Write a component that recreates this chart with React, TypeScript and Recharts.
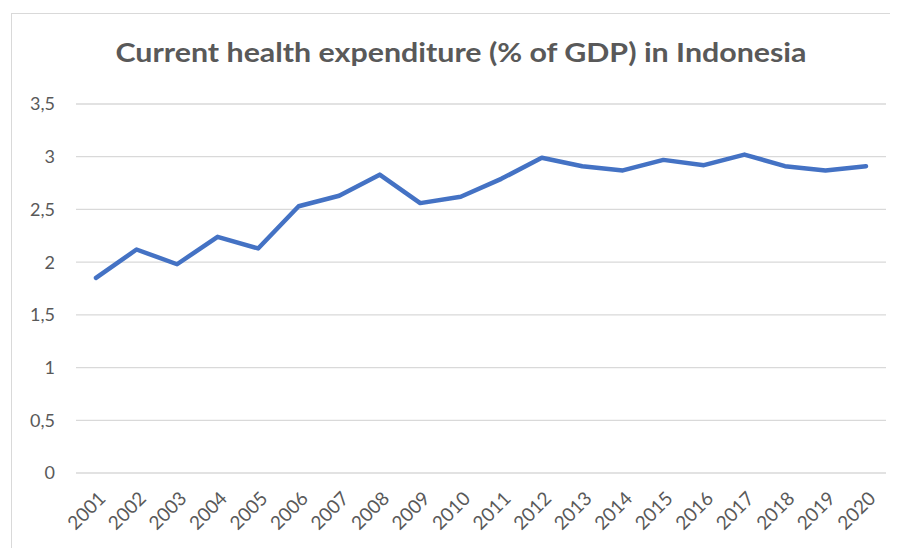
import React from 'react';
import { LineChart, Line, XAxis, YAxis, CartesianGrid } from 'recharts';

const years = ['2001','2002','2003','2004','2005','2006','2007','2008','2009','2010','2011','2012','2013','2014','2015','2016','2017','2018','2019','2020'];
const values = [1.85, 2.12, 1.98, 2.24, 2.13, 2.53, 2.63, 2.83, 2.56, 2.62, 2.79, 2.99, 2.91, 2.87, 2.97, 2.92, 3.02, 2.91, 2.87, 2.91];
const yTicks = [0, 0.5, 1, 1.5, 2, 2.5, 3, 3.5];
const title = 'Current health expenditure (% of GDP) in Indonesia';

const data = years.map((y, i) => ({ year: y, value: values[i] }));

const FONT = 'Lato, "Open Sans", sans-serif';
const TEXT = '#595959';

const XTick = (props: any) => {
  const { x, y, payload } = props;
  return (
    <g transform={`translate(${x + 6},${y + 14})`}>
      <text textAnchor="end" transform="rotate(-45)" fill={TEXT} fontSize={19} fontFamily={FONT} dy="0.355em">
        {payload.value}
      </text>
    </g>
  );
};

export default function App() {
  return (
    <div style={{ position: 'relative', width: 890, height: 540 }}>
      <div style={{ position: 'absolute', left: 3, top: 5, width: 900, height: 600, borderLeft: '1px solid #d9d9d9', borderTop: '1px solid #d9d9d9' }} />
      <svg style={{ position: 'absolute', left: 0, top: 0 }} width={890} height={90}>
        <text x={453} y={54} textAnchor="middle" fill={TEXT} fontSize={27} fontWeight="bold" fontFamily={FONT} textLength={691} lengthAdjust="spacingAndGlyphs">
          {title}
        </text>
      </svg>
      <div style={{ position: 'absolute', left: 0, top: 0 }}>
        <LineChart width={890} height={540} data={data} margin={{ top: 96, right: 12, left: 0, bottom: 15 }}>
          <CartesianGrid vertical={false} stroke="#d9d9d9" strokeWidth={1.3} />
          <XAxis dataKey="year" axisLine={false} tickLine={false} height={60} interval={0} padding={{ left: 20, right: 20 }} tick={<XTick />} />
          <YAxis
            width={68}
            domain={[0, 3.5]}
            ticks={yTicks}
            axisLine={false}
            tickLine={false}
            tickMargin={15}
            tick={{ fill: TEXT, fontSize: 18, fontFamily: FONT }}
            tickFormatter={(v: number) => String(v).replace('.', ',')}
          />
          <Line type="linear" dataKey="value" stroke="#4472c4" strokeWidth={4.5} dot={false} isAnimationActive={false} strokeLinecap="round" strokeLinejoin="round" />
        </LineChart>
      </div>
    </div>
  );
}
